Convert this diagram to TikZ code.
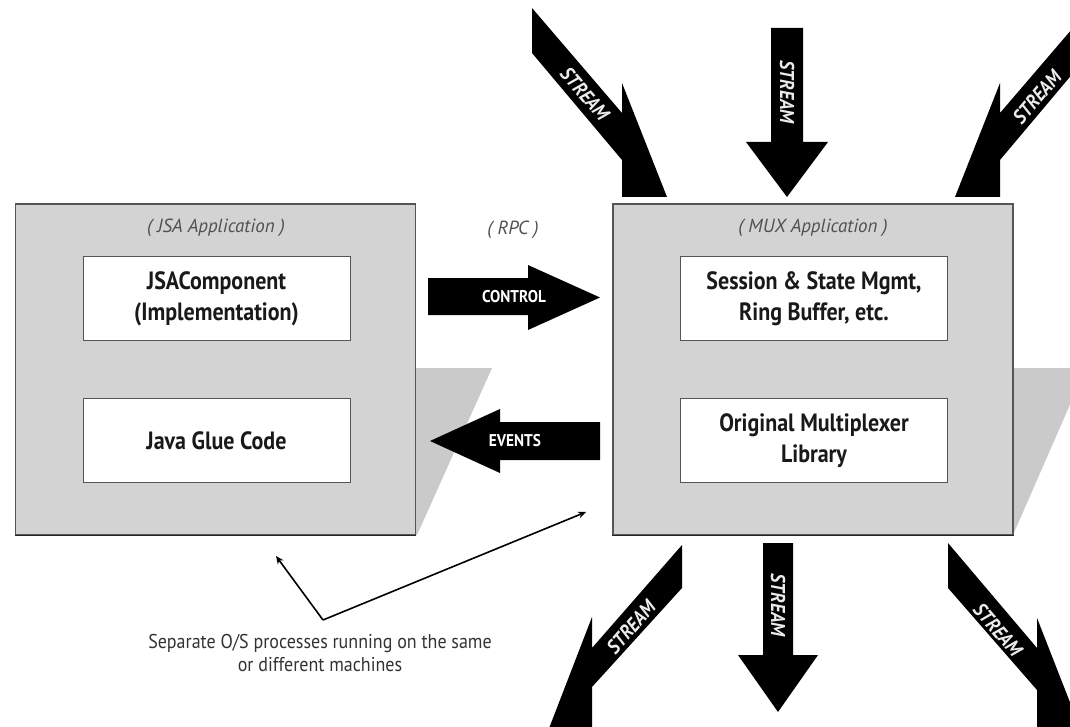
\documentclass[tikz,border=0pt]{standalone}
\usepackage{fontspec}
\setmainfont{PT Sans}
\newfontfamily\condfont[FakeStretch=0.88]{PT Sans}
\newfontfamily\narrowfont[FakeStretch=0.9]{PT Sans}
\usetikzlibrary{arrows.meta}
\definecolor{boxfill}{HTML}{D3D3D3}
\definecolor{shadowgray}{HTML}{CACACA}
\definecolor{edgegray}{HTML}{555555}
\definecolor{titlegray}{HTML}{505050}
\begin{document}
\begin{tikzpicture}[x=1pt,y=-1pt,
  appbox/.style={draw=edgegray, line width=1.1pt, fill=boxfill,
    minimum width=400pt, minimum height=331pt, inner sep=0pt},
  inbox/.style={draw=edgegray, line width=1pt, fill=white,
    minimum width=267pt, minimum height=84pt, inner sep=0pt, align=center,
    font=\condfont\bfseries\fontsize{25}{31}\selectfont, text=black!90},
  apptitle/.style={font=\itshape\fontsize{19}{21}\selectfont, text=titlegray},
  blockarrow/.style={fill=black},
  arrowlabel/.style={font=\narrowfont\bfseries\fontsize{17}{18}\selectfont, text=white},
  streamlabel/.style={font=\narrowfont\bfseries\itshape\fontsize{20}{20}\selectfont, text=white!92!black},
  note/.style={font=\narrowfont\fontsize{20}{23}\selectfont, text=black!80, align=center},
  pointer/.style={line width=1.6pt, -{Stealth[length=8pt,width=7pt]}}
]
\useasboundingbox (0,0) rectangle (1070,727);

% slanted grey shadows behind the two applications
\fill[shadowgray] (405,368) -- (492,368) -- (417,535) -- (405,535) -- cycle;
\fill[shadowgray] (1000,368) -- (1086,368) -- (1013,535) -- (1000,535) -- cycle;

% application boxes
\node[appbox] (jsa) at (215.5,369.5) {};
\node[appbox] (mux) at (813,369.5) {};
\draw[line width=1.7pt, black!85] (jsa.south west) -- (jsa.south east);
\draw[line width=1.7pt, black!85] (mux.south west) -- (mux.south east);

\node[apptitle] (jsatitle) at (216,228) {( JSA Application )};
\node[apptitle] (muxtitle) at (813,228) {( MUX Application )};

% components inside the applications
\node[inbox] (comp) at (216.5,298.5) {JSAComponent\\(Implementation)};
\node[inbox] (glue) at (216.5,440.5) {Java Glue Code};
\node[inbox] (sess) at (814,298.5) {Session \& State Mgmt,\\Ring Buffer, etc.};
\node[inbox] (lib) at (814,440.5) {Original Multiplexer\\Library};

% RPC channel between the applications
\node[apptitle] (rpc) at (513,230) {( RPC )};
\fill[blockarrow] (428,278) -- (528,278) -- (528,265) -- (600,297.5) -- (528,330) -- (528,315) -- (428,315) -- cycle;
\node[arrowlabel] (control) at (514,297) {CONTROL};
\fill[blockarrow] (600,422) -- (500,422) -- (500,409) -- (430,441) -- (500,473) -- (500,460) -- (600,460) -- cycle;
\node[arrowlabel] (events) at (515,441) {EVENTS};

% incoming streams
\fill[blockarrow] (532,8) -- (622,113) -- (622,83) -- (667,197) -- (622,197) -- (622,160) -- (532,53) -- cycle;
\node[streamlabel, rotate=-49.4] (sin1) at (585,94) {STREAM};
\fill[blockarrow] (771,28) -- (803,28) -- (803,142) -- (828,142) -- (787,197) -- (746,142) -- (771,142) -- cycle;
\node[streamlabel, rotate=-90] (sin2) at (787,92) {STREAM};
\fill[blockarrow] (1090,8) -- (1000,113) -- (1000,83) -- (955,197) -- (1000,197) -- (1000,160) -- (1090,53) -- cycle;
\node[streamlabel, rotate=49.4] (sin3) at (1037,97) {STREAM};

% outgoing streams
\fill[blockarrow] (682,545) -- (592,648) -- (592,617) -- (548,731) -- (592,731) -- (592,687) -- (682,588) -- cycle;
\node[streamlabel, rotate=48.8] (sout1) at (631,627) {STREAM};
\fill[blockarrow] (763,543) -- (793,543) -- (793,655) -- (818,655) -- (778,712) -- (738,655) -- (763,655) -- cycle;
\node[streamlabel, rotate=-90] (sout2) at (778,605) {STREAM};
\fill[blockarrow] (948,543) -- (1037,648) -- (1037,618) -- (1082,733) -- (1037,733) -- (1037,690) -- (948,588) -- cycle;
\node[streamlabel, rotate=-49.4] (sout3) at (998,630) {STREAM};

% annotation about separate processes
\coordinate (vtx) at (323,620);
\coordinate (vleft) at (276,556);
\coordinate (vright) at (586,512);
\draw[pointer] (vtx) -- (vleft);
\draw[pointer] (vtx) -- (vright);
\node[note] (procnote) at (320,653) {Separate O/S processes running on the same\\or different machines};
\end{tikzpicture}
\end{document}
